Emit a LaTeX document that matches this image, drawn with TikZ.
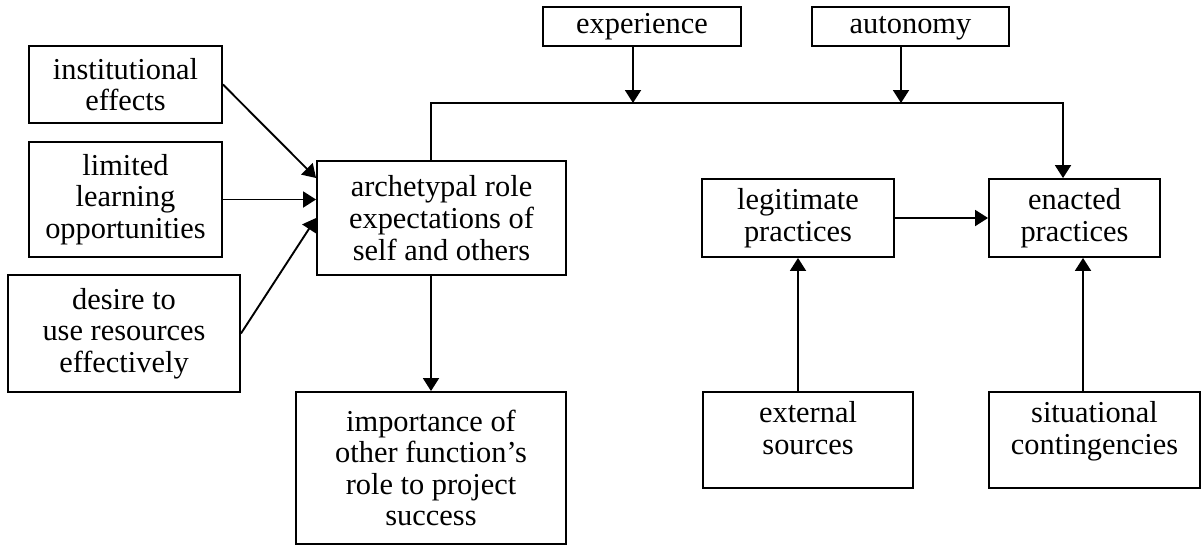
\documentclass[tikz,border=0pt]{standalone}
\usepackage{fontspec}
\setmainfont{Liberation Serif}
\usetikzlibrary{arrows.meta, calc}

\begin{document}
\begin{tikzpicture}[x=0.5pt, y=0.5pt, line width=0.95pt,
		      box/.style = {draw, rectangle, align=center, inner sep=2pt,
		      font=\fontsize{15.2}{15.8}\selectfont},
		      arr/.style = {-{Triangle[length=6.5pt, width=8pt]}},
		      oneline/.style = {text height=10.5pt, text depth=3.5pt},
		      lowtext/.style = {text depth=12pt} ]
\useasboundingbox (0,0) rectangle (1202,-546);

% left column
\node (inst)    [box, minimum width=96.5pt, minimum height=38.5pt] at (125.5,-84.5) {institutional\\effects};
\node (limited) [box, minimum width=96.5pt, minimum height=57.5pt] at (125.5,-199.5) {limited\\learning\\opportunities};
\node (desire)  [box, minimum width=116pt, minimum height=58.5pt] at (124,-333.5) {desire to\\use resources\\effectively};

% middle
\node (arch) [box, minimum width=124.5pt, minimum height=57pt] at (441.5,-218) {archetypal role\\expectations of\\self and others};
\node (imp)  [box, minimum width=135pt, minimum height=76pt] at (431,-468) {importance of\\other function's\\role to project\\success};

% top
\node (exp)  [box, oneline, minimum width=99pt, minimum height=19.5pt] at (642,-26.5) {experience};
\node (auto) [box, oneline, minimum width=98.5pt, minimum height=19.5pt] at (910.5,-26.5) {autonomy};

% right
\node (legit)   [box, minimum width=96pt, minimum height=39pt] at (798,-218) {legitimate\\practices};
\node (enacted) [box, minimum width=85.5pt, minimum height=39pt] at (1074.5,-218) {enacted\\practices};
\node (ext)     [box, lowtext, minimum width=105pt, minimum height=48pt] at (808,-440) {external\\sources};
\node (sit)     [box, lowtext, minimum width=105.5pt, minimum height=48pt] at (1094.5,-440) {situational\\contingencies};

\coordinate (topL) at (431,-103);
\coordinate (topR) at (1063,-103);

\draw[arr] (inst.east) -- ($(arch.west)+(0,40)$);
\draw[arr] (limited.east) -- (limited.east -| arch.west);
\draw[arr] (desire.east) -- (arch.west);
\draw[arr] (imp.north |- arch.south) -- (imp.north);

\draw[arr] (imp.north |- arch.north) -- (topL) -- (topR) -- (topR |- enacted.north);
\draw[arr] ([xshift=-4.5pt]exp.south) -- ([xshift=-4.5pt]exp.south |- topL);
\draw[arr] ([xshift=-4.75pt]auto.south) -- ([xshift=-4.75pt]auto.south |- topL);

\draw[arr] (legit.east) -- (enacted.west);
\draw[arr] (ext.north -| legit.south) -- (legit.south);
\draw[arr] ([xshift=-5.75pt]sit.north) -- ([xshift=-5.75pt]sit.north |- enacted.south);
\end{tikzpicture}
\end{document}
